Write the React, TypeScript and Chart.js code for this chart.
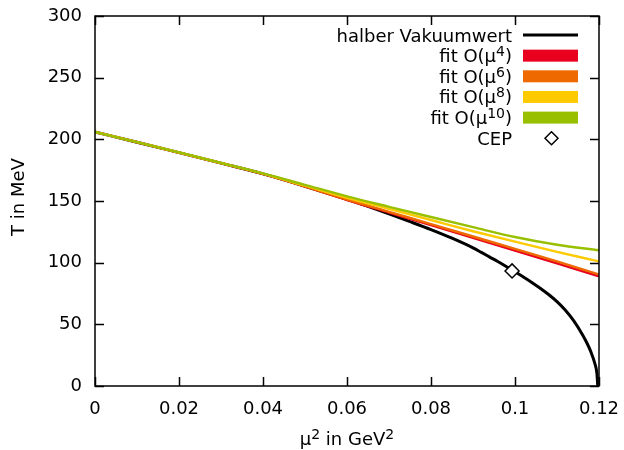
import React, { useEffect, useRef } from 'react';
import { Chart, registerables } from 'chart.js';

Chart.register(...registerables);

// ---- data ----
const blackMu2 = [0, 0.01, 0.02, 0.03, 0.04, 0.05, 0.06, 0.065, 0.07, 0.075, 0.08, 0.085, 0.09, 0.092, 0.094, 0.096, 0.098, 0.1, 0.102, 0.104, 0.106, 0.108, 0.11, 0.112, 0.114, 0.116, 0.117, 0.118, 0.119, 0.1195, 0.1197];
const blackT = [206, 197.7, 189.2, 180.7, 172, 162, 151.3, 145.6, 139.6, 133.3, 126.8, 119.8, 112, 108.3, 104.5, 100.7, 96.7, 92.6, 88.4, 84, 79.3, 74.2, 68.4, 61.4, 52.8, 42, 35.7, 28.3, 18.3, 10.3, 0];

const fitMu2 = [0, 0.01, 0.02, 0.03, 0.04, 0.05, 0.06, 0.07, 0.08, 0.09, 0.1, 0.11, 0.12];
const fit4 = [206, 197.7, 189.2, 180.7, 172, 161.8, 150.8, 140.6, 130.4, 120.1, 109.8, 99.4, 89];
const fit6 = [206, 197.7, 189.2, 180.7, 172, 161.9, 151.2, 141.2, 131.3, 121.2, 111.2, 101, 90.5];
const fit8 = [206, 197.8, 189.3, 180.8, 172.2, 162.4, 152.5, 143.6, 134.6, 125.5, 117, 108.8, 101];
const fit10 = [206, 197.8, 189.4, 180.9, 172.4, 163.1, 153.8, 145.3, 137, 128.8, 120.8, 114.5, 110];

const cepMu2 = [0.0993];
const cepT = [93.3];

// "^{...}" marks a superscript
const seriesLabels = ['halber Vakuumwert', 'fit O(μ^{4})', 'fit O(μ^{6})', 'fit O(μ^{8})', 'fit O(μ^{10})', 'CEP'];
const seriesColors = ['#000000', '#e8001e', '#ee6a00', '#fdca00', '#99c000', '#000000'];

const xMin = 0, xMax = 0.12, xStep = 0.02;
const yMin = 0, yMax = 300, yStep = 50;
const xTitle = 'μ^{2} in GeV^{2}';
const yTitle = 'T in MeV';

const FONT = 'DejaVu Sans';
const FS = 18;
const SUP_FS = 14;
const SUP_RISE = 6;

const toPts = (xs: number[], ys: number[]) => xs.map((x, i) => ({ x, y: ys[i] }));

type Seg = { t: string; sup: boolean };
function parseRich(s: string): Seg[] {
  const out: Seg[] = [];
  const re = /\^\{([^}]*)\}/g;
  let last = 0;
  let m: RegExpExecArray | null;
  while ((m = re.exec(s))) {
    if (m.index > last) out.push({ t: s.slice(last, m.index), sup: false });
    out.push({ t: m[1], sup: true });
    last = m.index + m[0].length;
  }
  if (last < s.length) out.push({ t: s.slice(last), sup: false });
  return out;
}

function richWidth(ctx: CanvasRenderingContext2D, segs: Seg[]) {
  let w = 0;
  segs.forEach((sg) => {
    ctx.font = `${sg.sup ? SUP_FS : FS}px "${FONT}"`;
    w += ctx.measureText(sg.t).width;
  });
  return w;
}

// draws rich text; x is the left start, y the baseline
function drawRich(ctx: CanvasRenderingContext2D, segs: Seg[], x: number, y: number) {
  ctx.textAlign = 'left';
  ctx.textBaseline = 'alphabetic';
  let cx = x;
  segs.forEach((sg) => {
    ctx.font = `${sg.sup ? SUP_FS : FS}px "${FONT}"`;
    ctx.fillText(sg.t, cx, sg.sup ? y - SUP_RISE : y);
    cx += ctx.measureText(sg.t).width;
  });
}

const framePlugin = {
  id: 'gnuFrame',
  afterDraw(chart: any) {
    const { ctx, chartArea: a, scales } = chart;
    const xs = scales.x, ys = scales.y;
    ctx.save();
    ctx.strokeStyle = '#000';
    ctx.lineWidth = 1.5;
    const tl = 9;
    ctx.beginPath();
    xs.ticks.forEach((t: any) => {
      const px = Math.round(xs.getPixelForValue(t.value)) + 0.5;
      ctx.moveTo(px, a.bottom); ctx.lineTo(px, a.bottom - tl);
      ctx.moveTo(px, a.top); ctx.lineTo(px, a.top + tl);
    });
    ys.ticks.forEach((t: any) => {
      const py = Math.round(ys.getPixelForValue(t.value)) + 0.5;
      ctx.moveTo(a.left, py); ctx.lineTo(a.left + tl, py);
      ctx.moveTo(a.right, py); ctx.lineTo(a.right - tl, py);
    });
    ctx.stroke();
    ctx.strokeRect(a.left, a.top, a.right - a.left, a.bottom - a.top);

    ctx.fillStyle = '#000';
    // x axis title
    const xt = parseRich(xTitle);
    const xw = richWidth(ctx, xt);
    drawRich(ctx, xt, (a.left + a.right) / 2 - xw / 2, 445);
    // y axis title (rotated)
    ctx.save();
    ctx.translate(23.5, (a.top + a.bottom) / 2 - 4);
    ctx.rotate(-Math.PI / 2);
    const yt = parseRich(yTitle);
    const yw = richWidth(ctx, yt);
    drawRich(ctx, yt, -yw / 2, 0);
    ctx.restore();

    // legend (gnuplot style: right-aligned text, sample to the right)
    const textRight = 512;
    const sampleL = 523, sampleR = 578;
    const y0 = 35, dy = 20.65;
    seriesLabels.forEach((lab, i) => {
      const cy = y0 + i * dy;
      const segs = parseRich(lab);
      const w = richWidth(ctx, segs);
      ctx.fillStyle = '#000';
      drawRich(ctx, segs, textRight - w, cy + 6.5);
      if (i === 0) {
        ctx.strokeStyle = seriesColors[0];
        ctx.lineWidth = 3;
        ctx.beginPath();
        ctx.moveTo(sampleL, cy); ctx.lineTo(sampleR, cy);
        ctx.stroke();
      } else if (i < 5) {
        ctx.fillStyle = seriesColors[i];
        ctx.fillRect(sampleL, cy - 6, sampleR - sampleL, 12);
      } else {
        const cx = (sampleL + sampleR) / 2 + 1, r = 6.5;
        ctx.strokeStyle = '#000';
        ctx.lineWidth = 1.5;
        ctx.fillStyle = '#fff';
        ctx.beginPath();
        ctx.moveTo(cx, cy - r); ctx.lineTo(cx + r, cy); ctx.lineTo(cx, cy + r); ctx.lineTo(cx - r, cy); ctx.closePath();
        ctx.fill(); ctx.stroke();
      }
    });
    ctx.restore();
  },
};

export default function App() {
  const ref = useRef<HTMLCanvasElement | null>(null);
  useEffect(() => {
    if (!ref.current) return;
    Chart.defaults.font.family = FONT;
    Chart.defaults.font.size = FS;
    Chart.defaults.color = '#000';
    const fitDs = (data: number[], i: number, order: number) => ({
      label: seriesLabels[i],
      data: toPts(fitMu2, data),
      borderColor: seriesColors[i],
      backgroundColor: seriesColors[i],
      borderWidth: 2.4,
      pointRadius: 0,
      cubicInterpolationMode: 'monotone' as const,
      order,
    });
    const chart = new Chart(ref.current, {
      type: 'line',
      data: {
        datasets: [
          {
            label: seriesLabels[0],
            data: toPts(blackMu2, blackT),
            borderColor: '#000',
            borderWidth: 3,
            pointRadius: 0,
            cubicInterpolationMode: 'monotone',
            order: 6,
          },
          fitDs(fit4, 1, 5),
          fitDs(fit6, 2, 4),
          fitDs(fit8, 3, 3),
          fitDs(fit10, 4, 2),
          {
            label: seriesLabels[5],
            data: toPts(cepMu2, cepT),
            showLine: false,
            pointStyle: 'rectRot',
            pointRadius: 7,
            pointBorderWidth: 1.5,
            pointBorderColor: '#000',
            pointBackgroundColor: '#fff',
            order: 0,
          } as any,
        ],
      },
      options: {
        responsive: false,
        animation: false,
        devicePixelRatio: 1,
        layout: { padding: { left: 0, top: 16, right: 25, bottom: 0 } },
        plugins: { legend: { display: false }, tooltip: { enabled: false } },
        scales: {
          x: {
            type: 'linear',
            min: xMin,
            max: xMax,
            grid: { display: false, drawTicks: false },
            border: { display: false },
            ticks: {
              stepSize: xStep,
              padding: 13,
              maxRotation: 0,
              callback: (v: any) => String(Number(Number(v).toFixed(2))),
            },
            title: { display: false },
            afterFit: (s: any) => { s.height = 64; s.paddingLeft = 0; s.paddingRight = 0; },
          },
          y: {
            type: 'linear',
            min: yMin,
            max: yMax,
            grid: { display: false, drawTicks: false },
            border: { display: false },
            ticks: { stepSize: yStep, padding: 13 },
            title: { display: false },
            afterFit: (s: any) => { s.width = 95; s.paddingTop = 0; s.paddingBottom = 0; },
          },
        },
      },
      plugins: [framePlugin],
    });
    return () => chart.destroy();
  }, []);
  return (
    <div style={{ position: 'fixed', left: 0, top: 0, width: 624, height: 450, background: '#fff' }}>
      <canvas ref={ref} width={624} height={450} style={{ display: 'block' }} />
    </div>
  );
}
